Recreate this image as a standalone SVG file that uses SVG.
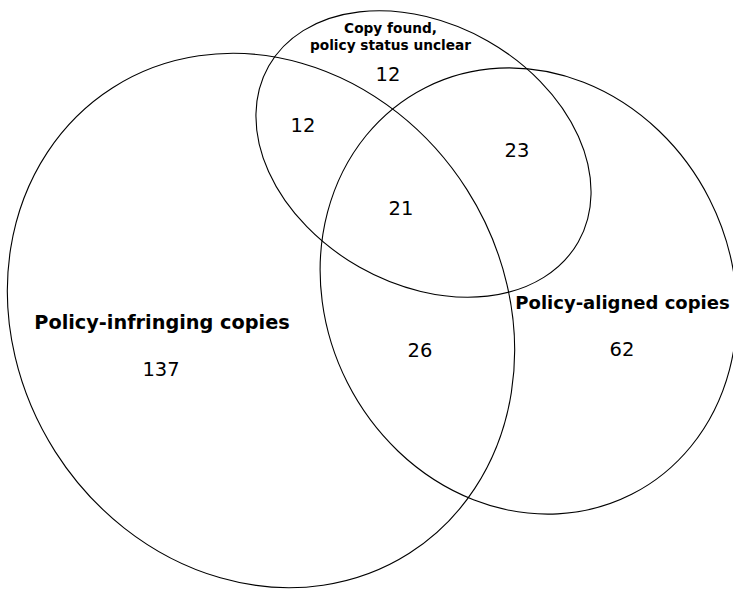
<svg xmlns="http://www.w3.org/2000/svg" width="733" height="589" viewBox="0 0 733 589">
<style>
.set{fill:none;stroke:#000;stroke-width:1.1}
.lbl{font-family:"DejaVu Sans",sans-serif;font-weight:bold;text-anchor:middle;fill:#000}
.num{font-family:"DejaVu Sans",sans-serif;font-size:19.5px;text-anchor:middle;fill:#000}
</style>
<rect width="733" height="589" fill="#fff"/>
<g id="connectors"/>
<g id="infringing">
<ellipse class="set" cx="261" cy="320.5" rx="276" ry="244" transform="rotate(57.5 261 320.5)"/>
<text class="lbl" x="162" y="329" font-size="19.3">Policy-infringing copies</text>
<text class="num" x="161" y="376">137</text>
</g>
<g id="aligned">
<ellipse class="set" cx="528.5" cy="291" rx="228" ry="203" transform="rotate(63.1 528.5 291)"/>
<text class="lbl" x="622.5" y="309" font-size="18">Policy-aligned copies</text>
<text class="num" x="622" y="356">62</text>
</g>
<g id="unclear">
<ellipse class="set" cx="423.5" cy="154" rx="178" ry="130" transform="rotate(29.6 423.5 154)"/>
<text class="lbl" x="390.5" y="33" font-size="13.7">Copy found,</text>
<text class="lbl" x="390.5" y="50" font-size="13.7">policy status unclear</text>
<text class="num" x="388" y="81">12</text>
</g>
<g id="overlaps">
<text class="num" x="303" y="132">12</text>
<text class="num" x="517" y="157">23</text>
<text class="num" x="401" y="215">21</text>
<text class="num" x="420" y="357">26</text>
</g>
</svg>
